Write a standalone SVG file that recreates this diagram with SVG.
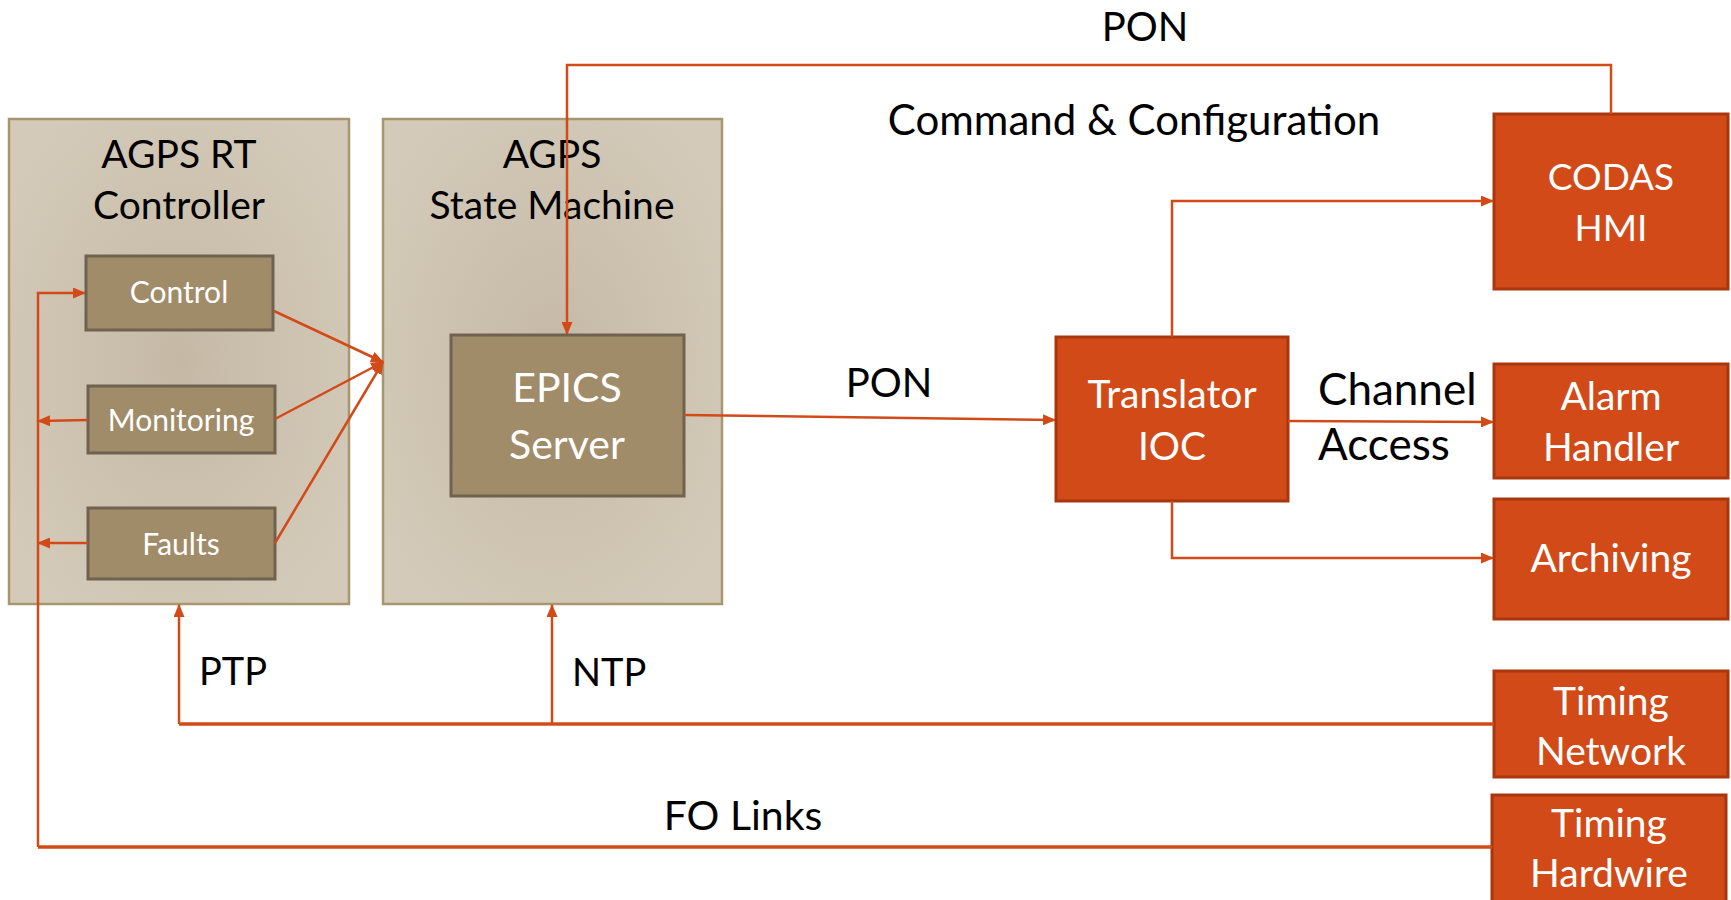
<svg xmlns="http://www.w3.org/2000/svg" width="1731" height="900" viewBox="0 0 1731 900">
<defs>
<radialGradient id="pg" cx="50%" cy="50%" r="60%">
<stop offset="0" stop-color="#C5B9A6"/>
<stop offset="1" stop-color="#D4CAB9"/>
</radialGradient>
<marker id="ah" markerWidth="13" markerHeight="11" refX="12" refY="5.5" orient="auto" markerUnits="userSpaceOnUse">
<path d="M0,0 L13,5.5 L0,11 Z" fill="#D24A18"/>
</marker>
<style>
.panel{fill:url(#pg);stroke:#A8966E;stroke-width:2.5}
.inner{fill:#A18C6A;stroke:#6F6250;stroke-width:3}
.orange{fill:#D24A18;stroke:#A8360F;stroke-width:3}
.ln{fill:none;stroke:#D24A18;stroke-width:2.5}
.thick{stroke-width:3.5}
text{font-family:Lato,"Open Sans","Liberation Sans",sans-serif;text-anchor:middle}
.dk{fill:#000}
.wt{fill:#fff}
</style>
</defs>
<rect width="1731" height="900" fill="#fff"/>

<g id="agps-rt-controller">
<rect class="panel" x="9" y="119" width="340" height="485"/>
<text class="dk" x="179" y="168" font-size="39">AGPS RT</text>
<text class="dk" x="179" y="219" font-size="39">Controller</text>
</g>
<g id="agps-state-machine">
<rect class="panel" x="383" y="119" width="339" height="485"/>
<text class="dk" x="552" y="168" font-size="39">AGPS</text>
<text class="dk" x="552" y="219" font-size="39">State Machine</text>
</g>
<g id="control">
<rect class="inner" x="86" y="256" width="187" height="74"/>
<text class="wt" x="179" y="303" font-size="30">Control</text>
</g>
<g id="monitoring">
<rect class="inner" x="88" y="386" width="187" height="67"/>
<text class="wt" x="181" y="431" font-size="30">Monitoring</text>
</g>
<g id="faults">
<rect class="inner" x="88" y="508" width="187" height="71"/>
<text class="wt" x="181" y="555" font-size="30">Faults</text>
</g>
<g id="epics-server">
<rect class="inner" x="451" y="335" width="233" height="161"/>
<text class="wt" x="567" y="402" font-size="41">EPICS</text>
<text class="wt" x="567" y="459" font-size="41">Server</text>
</g>
<g id="translator-ioc">
<rect class="orange" x="1056" y="337" width="232" height="164"/>
<text class="wt" x="1172" y="408" font-size="39">Translator</text>
<text class="wt" x="1172" y="460" font-size="39">IOC</text>
</g>
<g id="codas-hmi">
<rect class="orange" x="1494" y="114" width="234" height="175"/>
<text class="wt" x="1611" y="190" font-size="37">CODAS</text>
<text class="wt" x="1611" y="241" font-size="37">HMI</text>
</g>
<g id="alarm-handler">
<rect class="orange" x="1494" y="364" width="234" height="114"/>
<text class="wt" x="1611" y="410" font-size="39">Alarm</text>
<text class="wt" x="1611" y="461" font-size="39">Handler</text>
</g>
<g id="archiving">
<rect class="orange" x="1494" y="499" width="234" height="120"/>
<text class="wt" x="1611" y="572" font-size="39">Archiving</text>
</g>
<g id="timing-network">
<rect class="orange" x="1494" y="671" width="234" height="106"/>
<text class="wt" x="1611" y="715" font-size="39">Timing</text>
<text class="wt" x="1611" y="765" font-size="39">Network</text>
</g>
<g id="timing-hardwire">
<rect class="orange" x="1492" y="795" width="234" height="110"/>
<text class="wt" x="1609" y="837" font-size="39">Timing</text>
<text class="wt" x="1609" y="887" font-size="39">Hardwire</text>
</g>

<g id="connectors">
<path class="ln" d="M1611,114 V65 H567 V334" marker-end="url(#ah)"/>
<path class="ln" d="M274,311 L383,362" marker-end="url(#ah)"/>
<path class="ln" d="M275,419 L383,362" marker-end="url(#ah)"/>
<path class="ln" d="M275,543 L383,362" marker-end="url(#ah)"/>
<path class="ln" d="M88,420 L38,421" marker-end="url(#ah)"/>
<path class="ln" d="M88,543 L38,543" marker-end="url(#ah)"/>
<path class="ln" d="M684,415 L1055,420" marker-end="url(#ah)"/>
<path class="ln" d="M1172,337 V201 H1493" marker-end="url(#ah)"/>
<path class="ln" d="M1288,421 L1493,422" marker-end="url(#ah)"/>
<path class="ln" d="M1172,501 V558 H1493" marker-end="url(#ah)"/>
<path class="ln thick" d="M1494,724 H179"/>
<path class="ln" d="M179,724 V605" marker-end="url(#ah)"/>
<path class="ln" d="M552,724 V605" marker-end="url(#ah)"/>
<path class="ln thick" d="M1492,847 H38"/>
<path class="ln" d="M38,847 V293 H85" marker-end="url(#ah)"/>
</g>

<g id="labels">
<text class="dk" x="1145" y="41" font-size="40">PON</text>
<text class="dk" x="1134" y="135" font-size="42">Command &amp; Configuration</text>
<text class="dk" x="889" y="397" font-size="40">PON</text>
<text class="dk" x="1318" y="405" font-size="44" style="text-anchor:start">Channel</text>
<text class="dk" x="1318" y="460" font-size="44" style="text-anchor:start">Access</text>
<text class="dk" x="199" y="685" font-size="38" style="text-anchor:start">PTP</text>
<text class="dk" x="572" y="686" font-size="38" style="text-anchor:start">NTP</text>
<text class="dk" x="743" y="830" font-size="41">FO Links</text>
</g>
</svg>
